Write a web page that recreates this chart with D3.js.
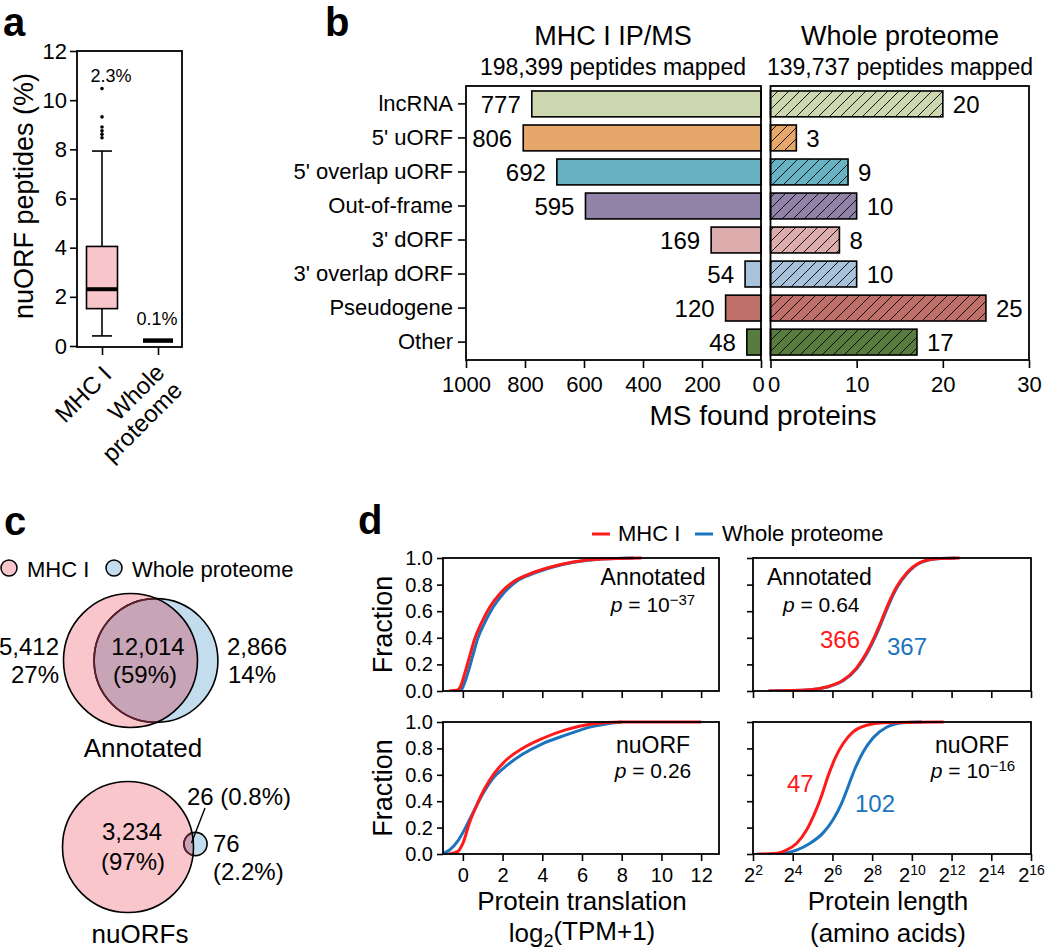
<!DOCTYPE html>
<html><head><meta charset="utf-8">
<script src="https://cdn.jsdelivr.net/npm/d3@7"></script>
<style>
body{margin:0;background:#fff;}
svg{font-family:"Liberation Sans",Arial,Helvetica,sans-serif;}
</style></head><body>
<svg id="fig" width="1050" height="951"></svg>
<script>
// ================= DATA =================
// Panel a
const boxGroups = ["MHC I", "Whole proteome"];
const mhcBoxStats = [0.41, 1.52, 2.31, 4.05, 7.93]; // whisker low, Q1, median, Q3, whisker high
const mhcOutliers = [8.47, 8.61, 8.75, 8.91, 9.32, 10.47];
const wholeMedian = 0.22;
const boxMedianLabels = ["2.3%", "0.1%"];
const boxYTicks = [0, 2, 4, 6, 8, 10, 12];

// Panel b
const categories = ["lncRNA", "5' uORF", "5' overlap uORF", "Out-of-frame", "3' dORF", "3' overlap dORF", "Pseudogene", "Other"];
const mhcCounts = [777, 806, 692, 595, 169, 54, 120, 48];
const wholeCounts = [20, 3, 9, 10, 8, 10, 25, 17];
const categoryColors = ["#cdd8b1", "#e6a76b", "#68b3c3", "#9182a8", "#dcadac", "#a9c2dc", "#c0706b", "#587b3f"];
const mhcTicks = [1000, 800, 600, 400, 200, 0];
const wholeTicks = [0, 10, 20, 30];

// Panel c
const vennAnnotatedCounts = [5412, 12014, 2866];   // MHC only, shared, whole only
const vennAnnotatedPct = ["27%", "(59%)", "14%"];
const vennNuorfCounts = [3234, 26, 76];
const vennNuorfPct = ["(97%)", "(0.8%)", "(2.2%)"];

// Panel d (cumulative fractions)
const transTicks = [0, 2, 4, 6, 8, 10, 12];
const lenTicks = [2, 4, 6, 8, 10, 12, 14, 16]; // log2 exponents
const fracTicks = [0, 0.2, 0.4, 0.6, 0.8, 1.0];

const transAnnotMhcX  = [-0.7, -0.3, -0.13, 0.09, 0.34, 0.59, 0.93, 1.35, 1.85, 2.53, 3.37, 4.38, 5.56, 7.0, 9.0];
const transAnnotMhcY  = [0, 0.005, 0.03, 0.13, 0.26, 0.39, 0.51, 0.63, 0.73, 0.82, 0.88, 0.93, 0.97, 0.993, 1.0];
const transAnnotWholeX = [-0.45, -0.1, 0.0, 0.24, 0.49, 0.74, 1.09, 1.52, 2.02, 2.66, 3.5, 4.5, 5.64, 7.0, 8.6];
const transAnnotWholeY = [0, 0.005, 0.03, 0.13, 0.26, 0.39, 0.51, 0.63, 0.73, 0.82, 0.88, 0.93, 0.97, 0.993, 1.0];

const transNuorfMhcX  = [-0.7, -0.25, 0.0, 0.33, 0.67, 1.08, 1.58, 2.17, 3.0, 4.0, 5.17, 6.5, 8.0, 12.0];
const transNuorfMhcY  = [0, 0.02, 0.08, 0.235, 0.36, 0.49, 0.61, 0.71, 0.80, 0.875, 0.94, 0.985, 1.0, 1.0];
const transNuorfWholeX = [-1.0, -0.67, -0.25, 0.17, 0.5, 1.0, 1.5, 2.17, 3.0, 4.0, 5.17, 6.5, 8.0];
const transNuorfWholeY = [0.005, 0.03, 0.1, 0.21, 0.31, 0.455, 0.57, 0.665, 0.755, 0.835, 0.90, 0.965, 1.0];

const lenAnnotMhcX  = [2.76, 4.86, 5.7, 6.53, 7.2, 7.71, 8.13, 8.47, 8.8, 9.22, 9.73, 10.4, 11.24, 12.4];
const lenAnnotMhcY  = [0, 0.01, 0.03, 0.08, 0.17, 0.285, 0.41, 0.53, 0.65, 0.78, 0.885, 0.965, 0.995, 1.0];
const lenAnnotWholeX = [2.8, 4.9, 5.74, 6.57, 7.24, 7.75, 8.17, 8.51, 8.84, 9.26, 9.77, 10.44, 11.28, 12.2];
const lenAnnotWholeY = [0, 0.01, 0.03, 0.08, 0.17, 0.285, 0.41, 0.53, 0.65, 0.78, 0.885, 0.965, 0.995, 1.0];

const lenNuorfMhcX  = [2.2, 3.09, 3.68, 4.19, 4.69, 5.11, 5.45, 5.78, 6.12, 6.53, 7.04, 7.71, 8.55, 11.6];
const lenNuorfMhcY  = [0, 0.003, 0.03, 0.08, 0.18, 0.31, 0.44, 0.59, 0.72, 0.835, 0.925, 0.975, 0.995, 1.0];
const lenNuorfWholeX = [3.4, 4.19, 4.86, 5.53, 6.03, 6.45, 6.79, 7.12, 7.54, 8.05, 8.72, 9.56, 10.5];
const lenNuorfWholeY = [0, 0.03, 0.08, 0.16, 0.26, 0.38, 0.51, 0.64, 0.77, 0.88, 0.96, 0.995, 1.0];

const medianLabelsAnnot = ["366", "367"];
const medianLabelsNuorf = ["47", "102"];

// ================= DRAWING =================
const RED = "#ff1a1a", BLUE = "#1b74bd";
const svg = d3.select("#fig");
const zip = (xs, ys) => xs.map((x, i) => [x, ys[i]]);

function cleanAxis(g, sw) {
  g.select(".domain").remove();
  g.selectAll(".tick line").attr("stroke", "#000").attr("stroke-width", sw || 1.6);
  g.selectAll(".tick text").attr("fill", "#000");
}

// Panel letters
[["a", 3, 36], ["b", 325, 36], ["c", 4, 535], ["d", 358, 534]].forEach(([l, x, y]) => {
  svg.append("text").attr("x", x).attr("y", y).style("font-size", "40px").style("font-weight", "bold").text(l);
});

// ---------- Panel a ----------
{
  const g = svg.append("g");
  const y = d3.scaleLinear().domain([0, 12]).range([346, 51]);
  const x = d3.scalePoint().domain(boxGroups).range([102, 158]);
  g.append("rect").attr("x", 77).attr("y", 51).attr("width", 105).attr("height", 296)
    .attr("fill", "none").attr("stroke", "#000").attr("stroke-width", 1.8);
  g.append("g").attr("transform", "translate(77,0)")
    .call(d3.axisLeft(y).tickValues(boxYTicks).tickSize(7).tickPadding(3))
    .call(a => cleanAxis(a)).selectAll("text").style("font-size", "22px").attr("font-family", null);
  g.append("g").attr("transform", "translate(0,347)")
    .call(d3.axisBottom(x).tickSize(8).tickFormat(""))
    .call(a => cleanAxis(a));
  const cx = x(boxGroups[0]);
  const [wlo, q1, med, q3, whi] = mhcBoxStats;
  g.append("line").attr("x1", cx).attr("x2", cx).attr("y1", y(whi)).attr("y2", y(wlo)).attr("stroke", "#000").attr("stroke-width", 1.6);
  [wlo, whi].forEach(v => g.append("line").attr("x1", cx - 10).attr("x2", cx + 10).attr("y1", y(v)).attr("y2", y(v)).attr("stroke", "#000").attr("stroke-width", 1.6));
  g.append("rect").attr("x", cx - 15.5).attr("width", 31).attr("y", y(q3)).attr("height", y(q1) - y(q3))
    .attr("fill", "#f8c5ca").attr("stroke", "#000").attr("stroke-width", 1.6);
  g.append("line").attr("x1", cx - 15.5).attr("x2", cx + 15.5).attr("y1", y(med)).attr("y2", y(med)).attr("stroke", "#000").attr("stroke-width", 4);
  g.selectAll("circle.out").data(mhcOutliers).join("circle").attr("cx", cx).attr("cy", d => y(d)).attr("r", 1.8).attr("fill", "#000");
  const cx2 = x(boxGroups[1]);
  g.append("line").attr("x1", cx2 - 15).attr("x2", cx2 + 15).attr("y1", y(wholeMedian)).attr("y2", y(wholeMedian)).attr("stroke", "#000").attr("stroke-width", 4.5);
  g.append("text").attr("x", 111).attr("y", 82).attr("text-anchor", "middle").style("font-size", "18px").text(boxMedianLabels[0]);
  g.append("text").attr("x", 157).attr("y", 325).attr("text-anchor", "middle").style("font-size", "18px").text(boxMedianLabels[1]);
  g.append("text").attr("transform", "translate(33,196) rotate(-90)").attr("text-anchor", "middle").style("font-size", "27px").text("nuORF peptides (%)");
  g.append("text").attr("transform", "translate(113,376) rotate(-45)").attr("text-anchor", "end").style("font-size", "24px").text("MHC I");
  const t2 = g.append("text").attr("transform", "translate(166,374) rotate(-45)").attr("text-anchor", "end").style("font-size", "24px");
  t2.append("tspan").attr("x", 0).text("Whole");
  t2.append("tspan").attr("x", 0).attr("dy", "1.05em").text("proteome");
}

// ---------- Panel b ----------
{
  const g = svg.append("g");
  const defs = svg.append("defs");
  categoryColors.forEach((c, i) => {
    const p = defs.append("pattern").attr("id", "hatch" + i).attr("patternUnits", "userSpaceOnUse").attr("width", 11).attr("height", 11);
    p.append("rect").attr("width", 11).attr("height", 11).attr("fill", c);
    p.append("path").attr("d", "M0,11 L11,0 M-2,2 L2,-2 M9,13 L13,9").attr("stroke", "#000").attr("stroke-width", 0.9);
  });
  const y = d3.scaleBand().domain(categories).range([86, 360]).paddingInner(0.24).paddingOuter(0.146);
  const xL = d3.scaleLinear().domain([0, 1000]).range([761, 466]);
  const xR = d3.scaleLinear().domain([0, 30]).range([770.5, 1029]);
  g.selectAll("rect.l").data(mhcCounts).join("rect")
    .attr("x", d => xL(d)).attr("width", d => xL(0) - xL(d))
    .attr("y", (d, i) => y(categories[i])).attr("height", y.bandwidth())
    .attr("fill", (d, i) => categoryColors[i]).attr("stroke", "#000").attr("stroke-width", 1.6);
  g.selectAll("rect.r").data(wholeCounts).join("rect")
    .attr("x", xR(0)).attr("width", d => xR(d) - xR(0))
    .attr("y", (d, i) => y(categories[i])).attr("height", y.bandwidth())
    .attr("fill", (d, i) => "url(#hatch" + i + ")").attr("stroke", "#000").attr("stroke-width", 1.6);
  g.append("rect").attr("x", 466).attr("y", 86).attr("width", 295).attr("height", 274).attr("fill", "none").attr("stroke", "#000").attr("stroke-width", 1.8);
  g.append("rect").attr("x", 770.5).attr("y", 86).attr("width", 258.5).attr("height", 274).attr("fill", "none").attr("stroke", "#000").attr("stroke-width", 1.8);
  g.selectAll("text.l").data(mhcCounts).join("text")
    .attr("x", d => xL(d) - 11).attr("y", (d, i) => y(categories[i]) + y.bandwidth() / 2).attr("dy", "0.36em")
    .attr("text-anchor", "end").style("font-size", "24px").text(d => d);
  g.selectAll("text.r").data(wholeCounts).join("text")
    .attr("x", d => xR(d) + 10).attr("y", (d, i) => y(categories[i]) + y.bandwidth() / 2).attr("dy", "0.36em")
    .style("font-size", "24px").text(d => d);
  g.append("g").attr("transform", "translate(466,0)")
    .call(d3.axisLeft(y).tickSize(8).tickPadding(5)).call(a => cleanAxis(a))
    .selectAll("text").style("font-size", "22px").attr("font-family", null);
  const axL = g.append("g").attr("transform", "translate(0,360)")
    .call(d3.axisBottom(xL).tickValues(mhcTicks).tickSize(8).tickPadding(8).tickFormat(d3.format("d"))).call(a => cleanAxis(a));
  axL.selectAll("text").style("font-size", "22px").attr("font-family", null).attr("dx", d => d === 0 ? -3 : 0);
  const axR = g.append("g").attr("transform", "translate(0,360)")
    .call(d3.axisBottom(xR).tickValues(wholeTicks).tickSize(8).tickPadding(8).tickFormat(d3.format("d"))).call(a => cleanAxis(a));
  axR.selectAll("text").style("font-size", "22px").attr("font-family", null).attr("dx", d => d === 0 ? 3 : 0);
  g.append("text").attr("x", 613).attr("y", 45).attr("text-anchor", "middle").style("font-size", "27px").text("MHC I IP/MS");
  g.append("text").attr("x", 613).attr("y", 75).attr("text-anchor", "middle").style("font-size", "23px").text("198,399 peptides mapped");
  g.append("text").attr("x", 900).attr("y", 45).attr("text-anchor", "middle").style("font-size", "27px").text("Whole proteome");
  g.append("text").attr("x", 900).attr("y", 75).attr("text-anchor", "middle").style("font-size", "23px").text("139,737 peptides mapped");
  g.append("text").attr("x", 763).attr("y", 425).attr("text-anchor", "middle").style("font-size", "28px").text("MS found proteins");
}

// ---------- Panel c ----------
{
  const g = svg.append("g");
  const PINK = "#f8c6cb", LBLUE = "#c3ddee", OVER = "#c8a5b6";
  g.append("circle").attr("cx", 9).attr("cy", 568).attr("r", 8).attr("fill", PINK).attr("stroke", "#000").attr("stroke-width", 1.5);
  g.append("text").attr("x", 27).attr("y", 577).style("font-size", "22px").text("MHC I");
  g.append("circle").attr("cx", 114).attr("cy", 568).attr("r", 8).attr("fill", LBLUE).attr("stroke", "#000").attr("stroke-width", 1.5);
  g.append("text").attr("x", 132).attr("y", 577).style("font-size", "22px").text("Whole proteome");

  const defs = svg.append("defs");
  function venn(id, counts, pc, bc, rMax) {
    const r = d3.scaleSqrt().domain([0, counts[0] + counts[1]]).range([0, rMax]);
    const r1 = r(counts[0] + counts[1]), r2 = r(counts[1] + counts[2]);
    defs.append("clipPath").attr("id", id).append("circle").attr("cx", pc[0]).attr("cy", pc[1]).attr("r", r1);
    g.append("circle").attr("cx", bc[0]).attr("cy", bc[1]).attr("r", r2).attr("fill", LBLUE);
    g.append("circle").attr("cx", pc[0]).attr("cy", pc[1]).attr("r", r1).attr("fill", PINK);
    g.append("circle").attr("cx", bc[0]).attr("cy", bc[1]).attr("r", r2).attr("fill", OVER).attr("clip-path", "url(#" + id + ")");
    g.append("circle").attr("cx", bc[0]).attr("cy", bc[1]).attr("r", r2).attr("fill", "none").attr("stroke", "#000").attr("stroke-width", 1.6);
    g.append("circle").attr("cx", bc[0]).attr("cy", bc[1]).attr("r", r2).attr("fill", "none").attr("stroke", "#5e1f2e").attr("stroke-width", 1.8).attr("clip-path", "url(#" + id + ")");
    g.append("circle").attr("cx", pc[0]).attr("cy", pc[1]).attr("r", r1).attr("fill", "none").attr("stroke", "#000").attr("stroke-width", 1.6);
  }
  venn("vennA", vennAnnotatedCounts, [130.5, 660.5], [156, 660.5], 67);
  venn("vennN", vennNuorfCounts, [128, 847], [195.5, 844], 65.5);
  const fmt = d3.format(",");
  const T = (x, y, s, anchor) => g.append("text").attr("x", x).attr("y", y).attr("text-anchor", anchor || "start").style("font-size", "24px").text(s);
  T(59, 655, fmt(vennAnnotatedCounts[0]), "end");
  T(59, 683, vennAnnotatedPct[0], "end");
  T(148, 655, fmt(vennAnnotatedCounts[1]), "middle");
  T(145, 683, vennAnnotatedPct[1], "middle");
  T(227, 655, fmt(vennAnnotatedCounts[2]));
  T(228, 683, vennAnnotatedPct[2]);
  g.append("text").attr("x", 143).attr("y", 757).attr("text-anchor", "middle").style("font-size", "26px").text("Annotated");
  T(132, 840, fmt(vennNuorfCounts[0]), "middle");
  T(133, 870, vennNuorfPct[0], "middle");
  T(187, 805, vennNuorfCounts[1] + " " + vennNuorfPct[1]);
  T(213, 852, fmt(vennNuorfCounts[2]));
  T(213, 880, vennNuorfPct[2]);
  g.append("line").attr("x1", 191.5).attr("y1", 843).attr("x2", 205).attr("y2", 808).attr("stroke", "#000").attr("stroke-width", 1.4);
  g.append("text").attr("x", 140).attr("y", 943).attr("text-anchor", "middle").style("font-size", "26px").text("nuORFs");
}

// ---------- Panel d ----------
{
  const g = svg.append("g");
  g.append("line").attr("x1", 592).attr("x2", 610).attr("y1", 534).attr("y2", 534).attr("stroke", RED).attr("stroke-width", 3);
  g.append("text").attr("x", 618).attr("y", 541).style("font-size", "22px").text("MHC I");
  g.append("line").attr("x1", 695).attr("x2", 713).attr("y1", 534).attr("y2", 534).attr("stroke", BLUE).attr("stroke-width", 3);
  g.append("text").attr("x", 722).attr("y", 541).style("font-size", "22px").text("Whole proteome");

  const xT = d3.scaleLinear().domain([-1, 12.9]).range([443, 719]);
  const xLen = d3.scaleLinear().domain([2, 16]).range([753, 1031]);
  const rows = [[558, 691], [722, 854]];
  const panels = [
    {x: xT, row: 0, mhc: zip(transAnnotMhcX, transAnnotMhcY), whole: zip(transAnnotWholeX, transAnnotWholeY), yLabels: true, xLabels: false, ticks: transTicks},
    {x: xLen, row: 0, mhc: zip(lenAnnotMhcX, lenAnnotMhcY), whole: zip(lenAnnotWholeX, lenAnnotWholeY), yLabels: false, xLabels: false, ticks: lenTicks},
    {x: xT, row: 1, mhc: zip(transNuorfMhcX, transNuorfMhcY), whole: zip(transNuorfWholeX, transNuorfWholeY), yLabels: true, xLabels: true, ticks: transTicks},
    {x: xLen, row: 1, mhc: zip(lenNuorfMhcX, lenNuorfMhcY), whole: zip(lenNuorfWholeX, lenNuorfWholeY), yLabels: false, xLabels: true, ticks: lenTicks, sup: true}
  ];
  panels.forEach((p, k) => {
    const [top, bot] = rows[p.row];
    const y = d3.scaleLinear().domain([0, 1]).range([bot, top]);
    const [x0, x1] = p.x.range();
    const cid = "clipd" + k;
    svg.append("defs").append("clipPath").attr("id", cid).append("rect").attr("x", x0).attr("y", top - 2).attr("width", x1 - x0).attr("height", bot - top + 2);
    const line = d3.line().x(d => p.x(d[0])).y(d => y(d[1])).curve(d3.curveMonotoneX);
    g.append("path").datum(p.whole).attr("d", line).attr("fill", "none").attr("stroke", BLUE).attr("stroke-width", 3).attr("clip-path", "url(#" + cid + ")");
    g.append("path").datum(p.mhc).attr("d", line).attr("fill", "none").attr("stroke", RED).attr("stroke-width", 3).attr("clip-path", "url(#" + cid + ")");
    g.append("rect").attr("x", x0).attr("y", top).attr("width", x1 - x0).attr("height", bot - top).attr("fill", "none").attr("stroke", "#000").attr("stroke-width", 1.8);
    const ay = g.append("g").attr("transform", "translate(" + x0 + ",0)")
      .call(d3.axisLeft(y).tickValues(fracTicks).tickSize(6).tickPadding(4).tickFormat(p.yLabels ? d3.format(".1f") : ""))
      .call(a => cleanAxis(a));
    ay.selectAll("text").style("font-size", "20px").attr("font-family", null);
    const ax = g.append("g").attr("transform", "translate(0," + bot + ")")
      .call(d3.axisBottom(p.x).tickValues(p.ticks).tickSize(7).tickPadding(7).tickFormat(p.xLabels && !p.sup ? d3.format("d") : ""))
      .call(a => cleanAxis(a));
    ax.selectAll("text").style("font-size", "20px").attr("font-family", null);
    if (p.sup) {
      ax.selectAll(".tick text").each(function (d) {
        const t = d3.select(this);
        t.text(null);
        t.append("tspan").text("2");
        t.append("tspan").attr("dy", "-0.55em").style("font-size", "14px").text(d);
      });
    }
  });
  [[624.5], [788]].forEach(([cy]) => g.append("text").attr("transform", "translate(392," + cy + ") rotate(-90)").attr("text-anchor", "middle").style("font-size", "27px").text("Fraction"));
  const pText = (x, y, anchor, val, sup) => {
    const t = g.append("text").attr("x", x).attr("y", y).attr("text-anchor", anchor).style("font-size", "21px");
    t.append("tspan").style("font-style", "italic").text("p");
    t.append("tspan").text(" = " + val);
    if (sup) t.append("tspan").attr("dy", "-0.5em").style("font-size", "15px").text(sup);
  };
  const label = (x, y, anchor, s, size, col) => g.append("text").attr("x", x).attr("y", y).attr("text-anchor", anchor).style("font-size", size + "px").attr("fill", col || "#000").text(s);
  label(653, 585, "middle", "Annotated", 23);
  pText(653, 612, "middle", "10", "\u221237");
  label(767, 585, "start", "Annotated", 23);
  pText(783, 612, "start", "0.64");
  label(820, 648, "start", medianLabelsAnnot[0], 24, RED);
  label(887, 655, "start", medianLabelsAnnot[1], 24, BLUE);
  label(653, 753, "middle", "nuORF", 23);
  pText(653, 778, "middle", "0.26");
  label(972, 753, "middle", "nuORF", 23);
  pText(973, 778, "middle", "10", "\u221216");
  label(787, 792, "start", medianLabelsNuorf[0], 24, RED);
  label(855, 812, "start", medianLabelsNuorf[1], 24, BLUE);
  label(582, 910, "middle", "Protein translation", 26);
  const lt = g.append("text").attr("x", 582).attr("y", 942).attr("text-anchor", "middle").style("font-size", "26px");
  lt.append("tspan").text("log");
  lt.append("tspan").attr("dy", "0.3em").style("font-size", "18px").text("2");
  lt.append("tspan").attr("dy", "-0.3em").text("(TPM+1)");
  label(888, 910, "middle", "Protein length", 26);
  label(888, 942, "middle", "(amino acids)", 26);
}
</script>
</body></html>
